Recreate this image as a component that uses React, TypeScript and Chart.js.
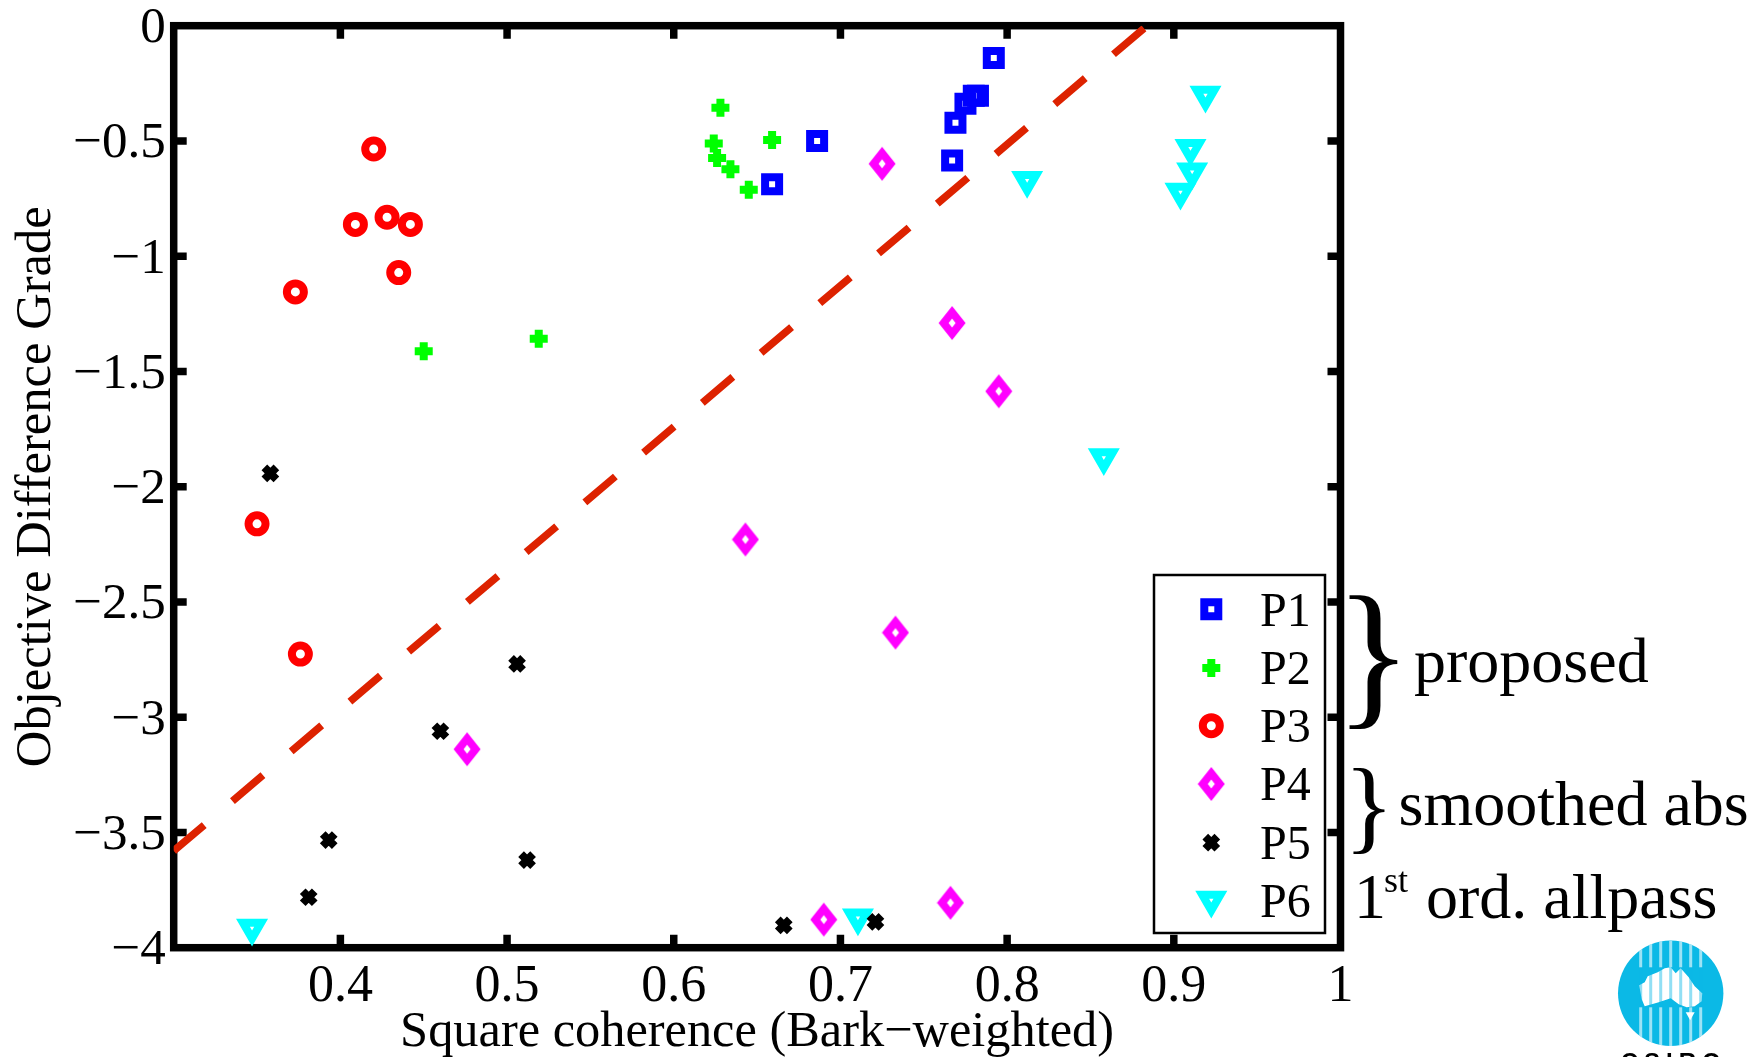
import { useEffect, useRef } from "react";
import { Chart, registerables } from "chart.js";

Chart.register(...registerables);

const xTicks = [0.4, 0.5, 0.6, 0.7, 0.8, 0.9, 1];
const yTicks = [0, -0.5, -1, -1.5, -2, -2.5, -3, -3.5, -4];

const p1X = [0.792, 0.78, 0.7825, 0.775, 0.769, 0.767, 0.686, 0.659];
const p1Y = [-0.14, -0.304, -0.304, -0.339, -0.421, -0.585, -0.5, -0.688];
const p2X = [0.628, 0.624, 0.626, 0.634, 0.645, 0.659, 0.45, 0.519];
const p2Y = [-0.356, -0.511, -0.574, -0.623, -0.712, -0.496, -1.412, -1.358];
const p3X = [0.42, 0.409, 0.428, 0.442, 0.435, 0.373, 0.35, 0.376];
const p3Y = [-0.535, -0.862, -0.831, -0.862, -1.071, -1.155, -2.161, -2.726];
const p4X = [0.725, 0.767, 0.795, 0.643, 0.733, 0.476, 0.766, 0.69];
const p4Y = [-0.599, -1.29, -1.586, -2.229, -2.633, -3.139, -3.805, -3.878];
const p5X = [0.358, 0.506, 0.46, 0.393, 0.512, 0.381, 0.666, 0.721];
const p5Y = [-1.942, -2.769, -3.061, -3.533, -3.62, -3.781, -3.903, -3.888];
const p6X = [0.919, 0.91, 0.911, 0.904, 0.812, 0.858, 0.347, 0.7105];
const p6Y = [-0.301, -0.532, -0.634, -0.721, -0.671, -1.873, -3.914, -3.87];
const fitX = [0.3, 0.884];
const fitY = [-3.58, 0];

const seriesNames = ["P1", "P2", "P3", "P4", "P5", "P6"];
const SERIF = '"Liberation Serif"';

const zip = (xs: number[], ys: number[]) => xs.map((x, i) => ({ x, y: ys[i] }));

function diamondImage(color: string) {
  const c = document.createElement("canvas");
  c.width = 28;
  c.height = 36;
  const g = c.getContext("2d")!;
  g.fillStyle = color;
  g.beginPath();
  g.moveTo(14, 1); g.lineTo(27.5, 18); g.lineTo(14, 35); g.lineTo(0.5, 18); g.closePath();
  g.moveTo(14, 13.5); g.lineTo(10.5, 18); g.lineTo(14, 22.5); g.lineTo(17.5, 18); g.closePath();
  g.fill("evenodd");
  return c;
}

const framePlugin = {
  id: "frame",
  beforeDatasetsDraw(chart: any) {
    const { ctx, chartArea: a, scales } = chart;
    ctx.save();
    ctx.strokeStyle = "#000";
    ctx.lineWidth = 7.5;
    ctx.lineCap = "butt";
    ctx.lineJoin = "miter";
    ctx.strokeRect(a.left, a.top, a.right - a.left, a.bottom - a.top);
    ctx.beginPath();
    for (const v of xTicks) {
      if (v === 1) continue;
      const x = scales.x.getPixelForValue(v);
      ctx.moveTo(x, a.bottom); ctx.lineTo(x, a.bottom - 13);
      ctx.moveTo(x, a.top); ctx.lineTo(x, a.top + 13);
    }
    for (const v of yTicks) {
      if (v === 0 || v === -4) continue;
      const y = scales.y.getPixelForValue(v);
      ctx.moveTo(a.left, y); ctx.lineTo(a.left + 13, y);
      ctx.moveTo(a.right, y); ctx.lineTo(a.right - 13, y);
    }
    ctx.stroke();
    ctx.restore();
  },
};

const legendPlugin = {
  id: "sideLegend",
  afterDatasetsDraw(chart: any) {
    const { ctx } = chart;
    ctx.save();
    ctx.fillStyle = "#fff";
    ctx.strokeStyle = "#000";
    ctx.lineWidth = 2.5;
    ctx.fillRect(1154, 575, 171, 358);
    ctx.strokeRect(1154, 575, 171, 358);
    seriesNames.forEach((name, i) => {
      const el = chart.getDatasetMeta(i).data[0];
      const saved = { x: el.x, y: el.y };
      el.x = 1211.3;
      el.y = [609.3, 668, 725.7, 784, 842.7, 900][i];
      el.draw(ctx, { left: 0, top: 0, right: 1758, bottom: 1057 });
      el.x = saved.x;
      el.y = saved.y;
      ctx.fillStyle = "#000";
      ctx.font = `48px ${SERIF}`;
      ctx.textAlign = "left";
      ctx.textBaseline = "alphabetic";
      ctx.fillText(name, 1260, 625.5 + i * 58.3);
    });
    ctx.restore();
  },
};

const notesPlugin = {
  id: "notes",
  afterDraw(chart: any) {
    const { ctx } = chart;
    ctx.save();
    ctx.fillStyle = "#000";
    ctx.textBaseline = "alphabetic";
    ctx.textAlign = "left";
    ctx.font = `160px ${SERIF}`;
    ctx.fillText("}", 1335, 707);
    ctx.font = `104px ${SERIF}`;
    ctx.fillText("}", 1344, 840);
    ctx.font = `64px ${SERIF}`;
    ctx.fillText("proposed", 1414, 682);
    ctx.fillText("smoothed abs", 1398.5, 825);
    ctx.fillText("1", 1354, 918);
    ctx.fillText("ord. allpass", 1426, 918);
    ctx.font = `36px ${SERIF}`;
    ctx.fillText("st", 1384, 892);

    // logo
    const cx = 1670.7, cy = 993.3, r = 52.7;
    ctx.save();
    ctx.beginPath();
    ctx.arc(cx, cy, r, 0, Math.PI * 2);
    ctx.fillStyle = "#0bb9e6";
    ctx.fill();
    ctx.clip();
    ctx.fillStyle = "#ffffff";
    ctx.beginPath();
    ctx.moveTo(cx - 31.5, cy - 8);
    ctx.lineTo(cx - 26, cy - 11);
    ctx.lineTo(cx - 23, cy - 17);
    ctx.lineTo(cx - 13, cy - 21);
    ctx.lineTo(cx - 6, cy - 25);
    ctx.lineTo(cx, cy - 26);
    ctx.lineTo(cx + 5, cy - 20);
    ctx.lineTo(cx + 10, cy - 25);
    ctx.lineTo(cx + 18, cy - 16);
    ctx.lineTo(cx + 24, cy - 7);
    ctx.lineTo(cx + 31.5, cy);
    ctx.lineTo(cx + 31, cy + 8);
    ctx.lineTo(cx + 24, cy + 13);
    ctx.lineTo(cx + 16, cy + 14);
    ctx.lineTo(cx + 8, cy + 11);
    ctx.lineTo(cx, cy + 5);
    ctx.lineTo(cx - 12, cy + 9);
    ctx.lineTo(cx - 26, cy + 13);
    ctx.lineTo(cx - 29, cy + 6);
    ctx.closePath();
    ctx.fill();
    ctx.beginPath();
    ctx.moveTo(cx + 15, cy + 19); ctx.lineTo(cx + 24, cy + 19); ctx.lineTo(cx + 19.5, cy + 27);
    ctx.closePath();
    ctx.fill();
    ctx.fillStyle = "rgba(11,185,230,0.45)";
    for (const dx of [-30, -20, -10, 0, 10, 20, 30]) ctx.fillRect(cx + dx - 1.5, cy - 29, 3, 44);
    ctx.fillStyle = "rgba(255,255,255,0.6)";
    for (const dx of [-30, -20, -10, 0, 10, 20, 30]) {
      ctx.fillRect(cx + dx - 1.5, cy - r, 3, r - 26);
      ctx.fillRect(cx + dx - 1.5, cy + 14, 3, r);
    }
    ctx.restore();
    ctx.fillStyle = "#000";
    ctx.font = 'bold 24px "Liberation Sans"';
    ctx.textAlign = "center";
    (ctx as any).letterSpacing = "6px";
    ctx.fillText("CSIRO", cx + 3, 1070);
    ctx.restore();
  },
};

export default function App() {
  const ref = useRef<HTMLCanvasElement>(null);
  useEffect(() => {
    document.body.style.margin = "0";
    const pt = (label: string, data: any[], color: string, pointStyle: any, pointRadius: number, borderWidth: number, rotation = 0) => ({
      label,
      data,
      type: "scatter" as const,
      showLine: false,
      pointStyle,
      pointRadius,
      pointRotation: rotation,
      pointBorderWidth: borderWidth,
      pointBorderColor: color,
      pointBackgroundColor: "transparent",
      clip: false as any,
    });
    const noPad = (s: any) => {
      s.paddingTop = 0;
      s.paddingBottom = 0;
      s.paddingLeft = 0;
      s.paddingRight = 0;
    };
    const chart = new Chart(ref.current!, {
      type: "scatter",
      data: {
        datasets: [
          pt("P1", zip(p1X, p1Y), "#0000ff", "rect", 9.9, 8),
          pt("P2", zip(p2X, p2Y), "#00ff00", "cross", 9, 8),
          pt("P3", zip(p3X, p3Y), "#ff0000", "circle", 8.5, 8),
          pt("P4", zip(p4X, p4Y), "#ff00ff", diamondImage("#ff00ff"), 14, 0),
          pt("P5", zip(p5X, p5Y), "#000000", "crossRot", 8.5, 8),
          pt("P6", zip(p6X, p6Y), "#00ffff", "triangle", 10.5, 8, 180),
          {
            label: "fit",
            data: zip(fitX, fitY),
            type: "line" as const,
            borderColor: "#dd2200",
            borderWidth: 7.5,
            borderDash: [40, 37],
            pointRadius: 0,
            fill: false,
            tension: 0,
          } as any,
        ],
      },
      options: {
        responsive: false,
        animation: false,
        layout: { padding: { top: 25.7, right: 1758 - 1340.5, left: 0, bottom: 0 } },
        plugins: { legend: { display: false }, tooltip: { enabled: false } },
        scales: {
          x: {
            type: "linear",
            min: 0.3,
            max: 1,
            afterFit: (s: any) => { s.height = 1057 - 947.7; noPad(s); },
            afterBuildTicks: (s: any) => { s.ticks = xTicks.map((value) => ({ value })); },
            grid: { display: false, drawTicks: false },
            border: { display: false },
            title: {
              display: true,
              text: "Square coherence (Bark\u2212weighted)",
              color: "#000",
              font: { family: SERIF, size: 50.4 },
              padding: { top: 0, bottom: -6 },
            },
            ticks: {
              color: "#000",
              font: { family: SERIF, size: 52 },
              maxRotation: 0,
              autoSkip: false,
              padding: 8,
              callback: (v: any) => String(v),
            },
          },
          y: {
            type: "linear",
            min: -4,
            max: 0,
            afterFit: (s: any) => { s.width = 173.7; noPad(s); },
            afterBuildTicks: (s: any) => { s.ticks = yTicks.map((value) => ({ value })); },
            grid: { display: false, drawTicks: false },
            border: { display: false },
            title: {
              display: true,
              text: "Objective Difference Grade",
              color: "#000",
              font: { family: SERIF, size: 50.6 },
              padding: { top: 6, bottom: 0 },
            },
            ticks: {
              color: "#000",
              font: { family: SERIF, size: 51 },
              autoSkip: false,
              padding: 8,
              labelOffset: 3,
              callback: (v: any) => (Number(v) < 0 ? "\u2212" + Math.abs(Number(v)) : String(v)),
            },
          },
        },
      },
      plugins: [framePlugin, legendPlugin, notesPlugin],
    });
    return () => chart.destroy();
  }, []);
  return <canvas ref={ref} width={1758} height={1057} style={{ display: "block" }} />;
}
